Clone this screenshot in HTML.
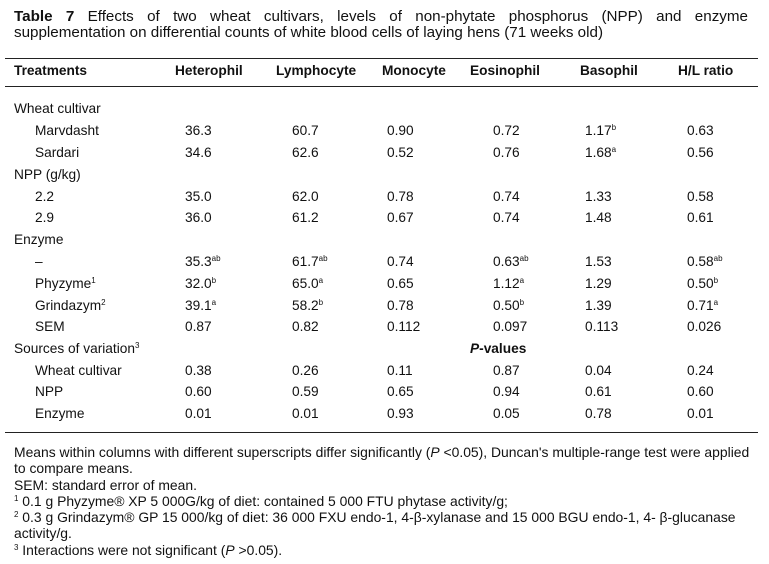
<!DOCTYPE html>
<html><head><meta charset="utf-8">
<style>
body{margin:0;width:769px;height:564px;background:#fff;position:relative;overflow:hidden;font-family:"Liberation Sans",Arial,sans-serif;font-size:13.7px;color:#111}
.t{position:absolute;white-space:nowrap;line-height:16px}
.rule{position:absolute;left:5px;width:753px;height:1px;background:#222}
sup{font-size:8px;line-height:0;vertical-align:5px}
.title{position:absolute;left:14px;top:9px;width:734px;text-align:justify;text-align-last:left;line-height:16px;font-size:15.2px}
.title .l1{display:block;text-align:justify;text-align-last:justify}
b{font-weight:bold}
</style></head><body>
<div class="title"><span class="l1"><b>Table 7</b> Effects of two wheat cultivars, levels of non-phytate phosphorus (NPP) and enzyme</span>supplementation on differential counts of white blood cells of laying hens (71 weeks old)</div>
<div class="rule" style="top:58px"></div>
<div class="rule" style="top:86px"></div>
<div class="rule" style="top:432px"></div>
<div id="tbl"></div>
<div class="t" style="left:14px;top:444px;line-height:16.3px;white-space:normal;width:750px;font-size:13.9px">
Means within columns with different superscripts differ significantly (<i>P</i> &lt;0.05), Duncan's multiple-range test were applied<br>to compare means.<br>SEM: standard error of mean.<br><sup>1</sup> 0.1 g Phyzyme® XP 5 000G/kg of diet: contained 5 000 FTU phytase activity/g;<br><sup>2</sup> 0.3 g Grindazym® GP 15 000/kg of diet: 36 000 FXU endo-1, 4-β-xylanase and 15 000 BGU endo-1, 4- β-glucanase<br>activity/g.<br><sup>3</sup> Interactions were not significant (<i>P</i> &gt;0.05).
</div>
<script>
const headers=["Heterophil","Lymphocyte","Monocyte","Eosinophil","Basophil","H/L ratio"];
const headerX=[175,276,382,470,580,678];
const colX=[185,292,387,493,585,687];
const rows=[
["Wheat cultivar",0,[]],
["Marvdasht",1,["36.3","60.7","0.90","0.72","1.17<sup>b</sup>","0.63"]],
["Sardari",1,["34.6","62.6","0.52","0.76","1.68<sup>a</sup>","0.56"]],
["NPP (g/kg)",0,[]],
["2.2",1,["35.0","62.0","0.78","0.74","1.33","0.58"]],
["2.9",1,["36.0","61.2","0.67","0.74","1.48","0.61"]],
["Enzyme",0,[]],
["–",1,["35.3<sup>ab</sup>","61.7<sup>ab</sup>","0.74","0.63<sup>ab</sup>","1.53","0.58<sup>ab</sup>"]],
["Phyzyme<sup>1</sup>",1,["32.0<sup>b</sup>","65.0<sup>a</sup>","0.65","1.12<sup>a</sup>","1.29","0.50<sup>b</sup>"]],
["Grindazym<sup>2</sup>",1,["39.1<sup>a</sup>","58.2<sup>b</sup>","0.78","0.50<sup>b</sup>","1.39","0.71<sup>a</sup>"]],
["SEM",1,["0.87","0.82","0.112","0.097","0.113","0.026"]],
["Sources of variation<sup>3</sup>",0,[]],
["Wheat cultivar",1,["0.38","0.26","0.11","0.87","0.04","0.24"]],
["NPP",1,["0.60","0.59","0.65","0.94","0.61","0.60"]],
["Enzyme",1,["0.01","0.01","0.93","0.05","0.78","0.01"]]
];
const rowY=[109,131,153,175,197,218,240,262,284,306,327,349,371,392,414];
const tbl=document.getElementById('tbl');
function add(html,x,y,bold){
 const d=document.createElement('div');d.className='t';d.innerHTML=html;
 d.style.left=x+'px';d.style.top=(y-8)+'px';if(bold)d.style.fontWeight='bold';
 tbl.appendChild(d);return d;}
let h=add("Treatments",14,71,true);


headers.forEach((t,i)=>{const e=add(t,headerX[i],71,true);

});
rows.forEach((r,i)=>{
 const e=add(r[0],r[1]?35:14,rowY[i],false);
 
 
 r[2].forEach((v,j)=>{const c=add(v,colX[j],rowY[i],false);
 
 });
});
const p=add("<i>P</i>-values",470,349,true);


</script>
</body></html>
